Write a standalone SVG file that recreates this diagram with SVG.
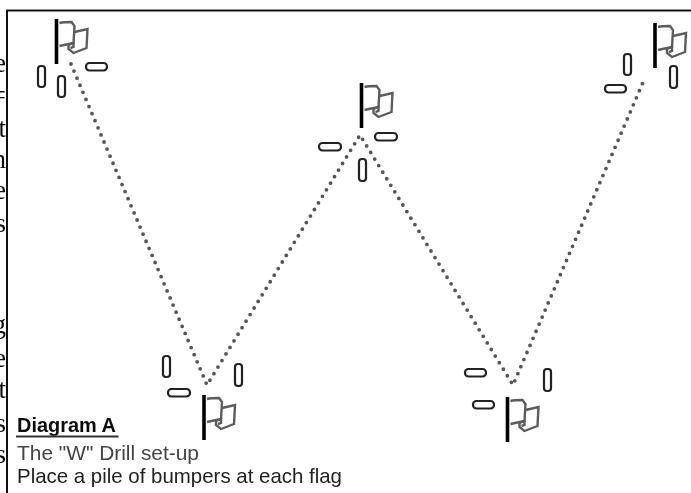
<svg xmlns="http://www.w3.org/2000/svg" width="691" height="493" viewBox="0 0 691 493">
<style>
.pole{stroke:#000;stroke-width:3.600;fill:none}
.cloth{stroke:#5c5c5c;stroke-width:2.400;fill:none}
.bump{fill:#fff;stroke:#222;stroke-width:2.200}
.dots{stroke:#555;stroke-width:3.800;stroke-linecap:round;stroke-dasharray:0 7.700;fill:none}
.clip{font-family:"Liberation Serif",serif;font-size:27px;fill:#111;text-anchor:end}
.cap{font-family:"Liberation Sans",Arial,sans-serif;font-size:21px;fill:#222}
</style>
<defs>
<filter id="soft" x="-5%" y="-5%" width="110%" height="110%"><feGaussianBlur stdDeviation="0.450"/></filter>
<g id="flag">
<path class="pole" d="M0 0V45"/>
<path class="cloth" d="M3 4C7 3 11 3 15 3L18 7L17 24C12 25 7 26 3 27"/>
<path class="cloth" d="M18 13L31 10L30 29L17 34L12 30V26L17 24L17 28L14 29"/>
</g>
<clipPath id="side"><rect x="0" y="0" width="6" height="493"/></clipPath>
</defs>
<rect width="691" height="493" fill="#fff"/>
<g clip-path="url(#side)" filter="url(#soft)">
<text class="clip" x="6" y="72">e</text>
<text class="clip" x="6" y="104">=</text>
<text class="clip" x="6" y="137">t</text>
<text class="clip" x="6" y="168">n</text>
<text class="clip" x="6" y="199">e</text>
<text class="clip" x="6" y="232">s</text>
<text class="clip" x="6" y="333">g</text>
<text class="clip" x="6" y="367">e</text>
<text class="clip" x="6" y="398">t</text>
<text class="clip" x="6" y="432">s</text>
<text class="clip" x="6" y="463">s</text>
</g>
<path id="frame" d="M7 493V10.500H691" fill="none" stroke="#111" stroke-width="2"/>
<g id="connectors" filter="url(#soft)">
<path class="dots" d="M71 64L207 385L360 135L513 385L644 80"/>
</g>
<g id="flag1" filter="url(#soft)"><use href="#flag" x="56.500" y="19"/></g>
<g id="flag2" filter="url(#soft)"><use href="#flag" x="361.500" y="83"/></g>
<g id="flag3" filter="url(#soft)"><use href="#flag" x="204" y="395"/></g>
<g id="flag4" filter="url(#soft)"><use href="#flag" x="507.500" y="397"/></g>
<g id="flag5" filter="url(#soft)"><use href="#flag" x="655" y="23"/></g>
<g id="bumpers1" filter="url(#soft)">
<rect class="bump" x="38" y="66" width="7" height="21" rx="3"/>
<rect class="bump" x="58" y="76" width="7" height="21" rx="3"/>
<rect class="bump" x="86" y="63" width="21" height="7.500" rx="3.500"/>
</g>
<g id="bumpers2" filter="url(#soft)">
<rect class="bump" x="319" y="143" width="22" height="7.500" rx="3.500"/>
<rect class="bump" x="375" y="133" width="22" height="7.500" rx="3.500"/>
<rect class="bump" x="359" y="159" width="7" height="22" rx="3"/>
</g>
<g id="bumpers3" filter="url(#soft)">
<rect class="bump" x="163" y="356" width="7" height="21" rx="3"/>
<rect class="bump" x="168" y="389" width="22" height="7.500" rx="3.500"/>
<rect class="bump" x="235" y="364" width="7" height="22" rx="3"/>
</g>
<g id="bumpers4" filter="url(#soft)">
<rect class="bump" x="465" y="369" width="21" height="7.500" rx="3.500"/>
<rect class="bump" x="473" y="401" width="21" height="7.500" rx="3.500"/>
<rect class="bump" x="544" y="369" width="7" height="22" rx="3"/>
</g>
<g id="bumpers5" filter="url(#soft)">
<rect class="bump" x="624" y="54" width="7" height="21" rx="3"/>
<rect class="bump" x="605" y="85" width="21" height="7.500" rx="3.500"/>
<rect class="bump" x="670" y="66" width="7" height="22" rx="3"/>
</g>
<g id="caption" filter="url(#soft)">
<text class="cap" x="17" y="432" font-weight="700" textLength="99" lengthAdjust="spacingAndGlyphs" style="fill:#111">Diagram A</text>
<path d="M16 436.500H118.500" stroke="#333" stroke-width="2"/>
<text class="cap" x="17" y="460" textLength="182" lengthAdjust="spacingAndGlyphs" style="fill:#444">The "W" Drill set-up</text>
<text class="cap" x="17" y="483" textLength="325" lengthAdjust="spacingAndGlyphs">Place a pile of bumpers at each flag</text>
</g>
</svg>
